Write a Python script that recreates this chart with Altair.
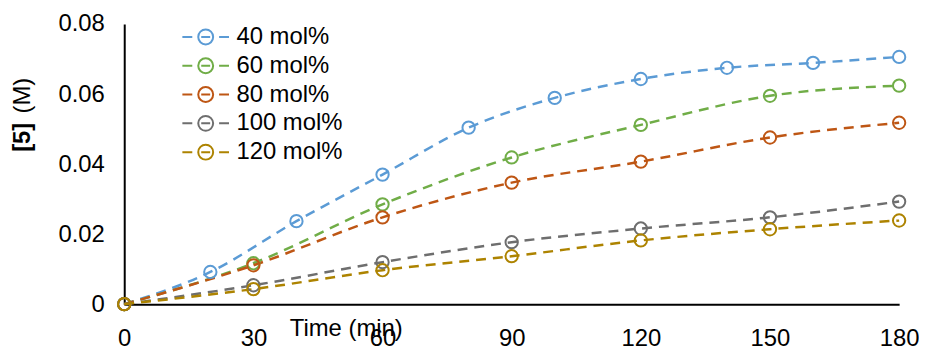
import altair as alt
import pandas as pd

series_names = ["40 mol%", "60 mol%", "80 mol%", "100 mol%", "120 mol%"]
series_colors = ["#5B9BD5", "#70AD47", "#BE5614", "#6E6E6E", "#AD8300"]

times_40 = [0, 20, 40, 60, 80, 100, 120, 140, 160, 180]
conc_40 = [0, 0.0092, 0.0237, 0.0370, 0.0504, 0.0589, 0.0643, 0.0675, 0.0689, 0.0706]

times_other = [0, 30, 60, 90, 120, 150, 180]
conc_60 = [0, 0.0117, 0.0285, 0.0419, 0.0512, 0.0595, 0.0624]
conc_80 = [0, 0.0111, 0.0248, 0.0347, 0.0407, 0.0476, 0.0518]
conc_100 = [0, 0.0054, 0.0120, 0.0177, 0.0216, 0.0248, 0.0293]
conc_120 = [0, 0.0043, 0.0097, 0.0137, 0.0182, 0.0214, 0.0239]

x_ticks = [0, 30, 60, 90, 120, 150, 180]
y_ticks = [0, 0.02, 0.04, 0.06, 0.08]

rows = []
for t, c in zip(times_40, conc_40):
    rows.append({"time": t, "conc": c, "series": "40 mol%"})
for name, vals in zip(series_names[1:], [conc_60, conc_80, conc_100, conc_120]):
    for t, c in zip(times_other, vals):
        rows.append({"time": t, "conc": c, "series": name})
df = pd.DataFrame(rows)

FONT = "Liberation Sans"
FS = 24

color_scale = alt.Scale(domain=series_names, range=series_colors)
x_enc = alt.X("time:Q", scale=alt.Scale(domain=[0, 180]),
              axis=alt.Axis(values=x_ticks, title="Time (min)", titleX=223, titleY=32,
                            titleAlign="center", titleBaseline="alphabetic",
                            titleAnchor="start",
                            labelPadding=23, labelFlush=False))
y_enc = alt.Y("conc:Q", scale=alt.Scale(domain=[0, 0.08]),
              axis=alt.Axis(values=y_ticks, format=".2~f", title=None, labelPadding=20))

legend_symbol = ("M-3.13,0L-1.8,0M-1,0A1,1,0,1,1,1,0A1,1,0,1,1,-1,0"
                 "M-0.6,0L0.6,0M1.8,0L3.13,0")

legend = alt.Legend(title=None, orient="none", legendX=70, legendY=1,
                    symbolType=legend_symbol, symbolSize=225,
                    symbolStrokeWidth=2, symbolFillColor="transparent",
                    labelOffset=19, rowPadding=5, padding=0,
                    labelFontSize=FS, labelFont=FONT, labelColor="#000000")

lines = alt.Chart(df).mark_line(strokeDash=[10, 7], strokeWidth=2.5, interpolate="monotone").encode(
    x=x_enc, y=y_enc,
    color=alt.Color("series:N", scale=color_scale, legend=legend),
    detail="series:N",
)

points = alt.Chart(df).mark_point(filled=False, size=154, strokeWidth=2, opacity=1).encode(
    x=x_enc, y=y_enc,
    color=alt.Color("series:N", scale=color_scale, legend=legend),
)

title_bold = alt.Chart(pd.DataFrame({"t": ["[5]"]})).mark_text(
    angle=270, font=FONT, fontSize=FS, fontWeight="bold", align="center", baseline="middle",
    color="#000000").encode(text="t:N", x=alt.value(-102), y=alt.value(114))
title_unit = alt.Chart(pd.DataFrame({"t": ["(M)"]})).mark_text(
    angle=270, font=FONT, fontSize=FS, fontWeight="normal", align="center", baseline="middle",
    color="#000000").encode(text="t:N", x=alt.value(-102), y=alt.value(72))

chart = alt.layer(lines, points, title_bold, title_unit).properties(
    width=780, height=282,
    autosize=alt.AutoSizeParams(type="none"),
    padding={"left": 117, "top": 15, "right": 20, "bottom": 45},
).configure_view(stroke=None).configure_axis(
    domainColor="#000000", domainWidth=2, ticks=False, tickSize=0, grid=False,
    labelFont=FONT, labelFontSize=FS, labelColor="#000000",
    titleFont=FONT, titleFontSize=FS, titleFontWeight="normal", titleColor="#000000",
)

chart.save("out.html", embed_options={"renderer": "svg", "actions": False})
